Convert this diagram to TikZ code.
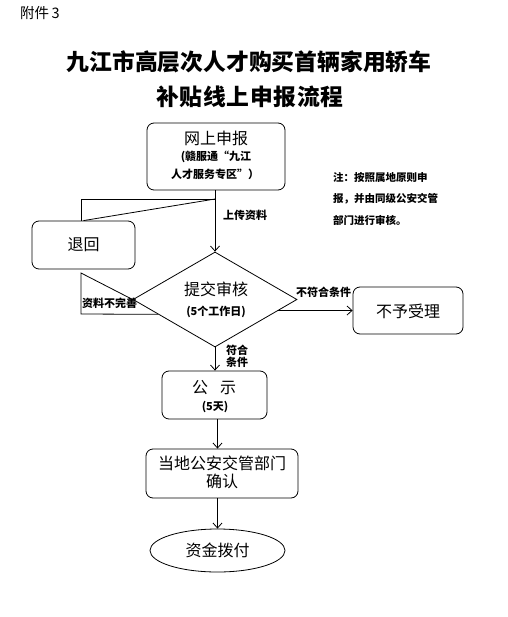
\documentclass[tikz,border=0pt]{standalone}
\usepackage{fontspec}
\setmainfont{Noto Sans CJK SC}
\usetikzlibrary{shapes.geometric,arrows.meta,calc}
\begin{document}
\begin{tikzpicture}[x=1pt,y=-1pt,
  box/.style={draw, rounded corners=7pt, line width=0.8pt, inner sep=0pt},
  arr/.style={line width=0.8pt, -{Straight Barb[length=5pt,width=9pt]}},
  ln/.style={line width=0.8pt},
  big/.style={inner sep=0pt, font=\fontsize{16}{19}\selectfont},
  small/.style={inner sep=0pt, font=\bfseries\fontsize{11}{13}\selectfont},
  lab/.style={inner sep=0pt, font=\bfseries\fontsize{11}{13}\selectfont}]
\useasboundingbox (0,0) rectangle (507,617);
\fill[white] (0,0) rectangle (507,617);

% header
\node[anchor=west, inner sep=0pt, font=\fontsize{14.5}{16}\selectfont] (fj) at (20,13) {附件\,3};
\node[inner sep=0pt, font=\bfseries\fontsize{22.8}{25}\selectfont] (t1) at (249,62) {九江市高层次人才购买首辆家用轿车};
\node[inner sep=0pt, font=\bfseries\fontsize{22.8}{25}\selectfont\addfontfeatures{LetterSpace=3}] (t2) at (250,97) {补贴线上申报流程};

% boxes
\node[box, minimum width=138pt, minimum height=67pt] (sb) at (216,156.5) {};
\node[big] (sbt) at (216,138) {网上申报};
\node[small] (sbs1) at (216,157) {(赣服通“九江};
\node[small] (sbs2) at (215,174) {人才服务专区”）};

\node[box, minimum width=103pt, minimum height=48pt] (th) at (83.5,245) {};
\node[big] (tht) at (83.5,245) {退回};

\node[draw, diamond, line width=0.8pt, minimum width=164pt, minimum height=95pt, inner sep=0pt] (d) at (215,299.5) {};
\node[big] (dt1) at (216,289) {提交审核};
\node[small] (dt2) at (216,312) {(5个工作日)};

\node[box, minimum width=110pt, minimum height=47pt] (by) at (408,310.5) {};
\node[big] (byt) at (408,311) {不予受理};

\node[box, minimum width=105pt, minimum height=48pt] (gs) at (214.5,395) {};
\node[big] (gst1) at (214,388) {公\hspace{12pt}示};
\node[small] (gst2) at (215,407) {(5天)};

\node[box, minimum width=152pt, minimum height=49pt] (dd) at (222,473.5) {};
\node[big] (ddt1) at (222,463) {当地公安交管部门};
\node[big] (ddt2) at (222,481) {确认};

\node[draw, ellipse, line width=0.8pt, minimum width=135pt, minimum height=43pt, inner sep=0pt] (ze) at (217.5,550.5) {};
\node[big] (zet) at (217.5,550.5) {资金拨付};

% note
\node[lab, anchor=north west, align=left, font=\bfseries\fontsize{10.5}{21.5}\selectfont] (note) at (333,172) {注：按照属地原则申\\报，并由同级公安交管\\部门进行审核。};

% connectors
\coordinate (j) at (215,199);
\coordinate (ja) at (81,199);
\draw[arr] (j |- sb.south) -- (d.north);
\draw[ln] (j) -- (ja) -- (ja |- th.north);
\draw[ln] (j) -- (th.north);

\coordinate (ta) at (81,273);
\coordinate (tb) at (81,314);
\draw[ln] (d.west) -- (ta) -- (tb) -- ($(d.west)!0.31!(d.south)$);

\coordinate (r) at ($(d.east)!0.23!(d.south)$);
\draw[arr] (r) -- (r -| by.west);

\draw[arr] (d.south) -- (d.south |- gs.north);
\draw[arr] (gs.south -| ze.north) -- (ze.north |- dd.north);
\draw[arr] (dd.south -| ze.north) -- (ze.north);

% labels
\node[lab, anchor=west] (l1) at (223,215) {上传资料};
\node[lab, anchor=west] (l2) at (82,303) {资料不完善};
\node[lab, anchor=west] (l3) at (296,292) {不符合条件};
\node[lab, align=left, font=\bfseries\fontsize{11}{11.5}\selectfont] (l4) at (237,356.5) {符合\\条件};
\end{tikzpicture}
\end{document}
